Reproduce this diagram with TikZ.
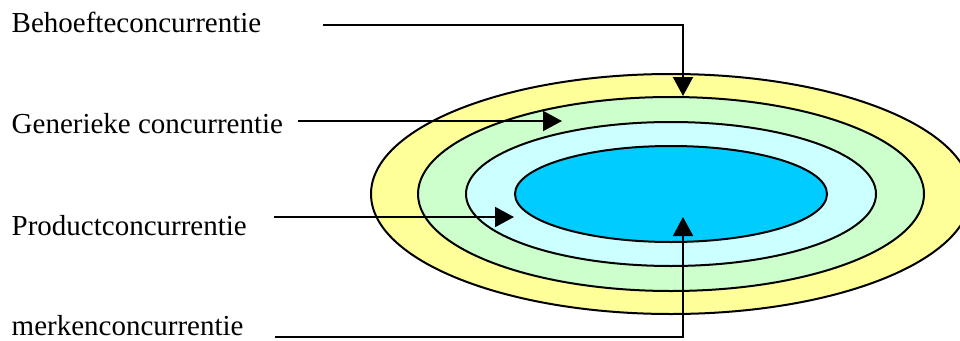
\documentclass[tikz,border=0pt]{standalone}
\usepackage{fontspec}
\setmainfont{Liberation Serif}
\usetikzlibrary{arrows.meta}
\definecolor{ringyellow}{HTML}{FFFF99}
\definecolor{ringgreen}{HTML}{CCFFCC}
\definecolor{ringcyan}{HTML}{CCFFFF}
\definecolor{ringblue}{HTML}{00CCFF}
\begin{document}
\begin{tikzpicture}[x=1pt,y=-1pt,
  ring/.style={draw=black,line width=2pt},
  lbl/.style={anchor=base west,inner sep=0pt,font=\fontsize{29}{34}\selectfont},
  pointer/.style={draw=black,line width=2pt,-{Triangle[length=19pt,width=20pt]}}]
\useasboundingbox (0,0) rectangle (960,340);
\begin{scope}
\clip (0,0) rectangle (960,340);
\path[ring,fill=ringyellow] (671,194) ellipse [x radius=300,y radius=120];
\path[ring,fill=ringgreen] (671,194) ellipse [x radius=253,y radius=97];
\path[ring,fill=ringcyan] (671,194) ellipse [x radius=205,y radius=72];
\path[ring,fill=ringblue] (671,194) ellipse [x radius=156,y radius=48];
\end{scope}
\node[lbl] (behoefte) at (11.5,32) {Behoefteconcurrentie};
\node[lbl] (generiek) at (11.5,133) {Generieke concurrentie};
\node[lbl] (product) at (11.5,235) {Productconcurrentie};
\node[lbl] (merken) at (11.5,335) {merkenconcurrentie};
\coordinate (bs) at (323,24.5);
\coordinate (bc) at (683,24.5);
\coordinate (bt) at (683,96);
\coordinate (gs) at (298,121);
\coordinate (gt) at (562,121);
\coordinate (ps) at (274,217);
\coordinate (pt) at (514,217);
\coordinate (ms) at (275,336.5);
\coordinate (mc) at (683,336.5);
\coordinate (mt) at (683,217);
\draw[pointer] (bs) -- (bc) -- (bt);
\draw[pointer] (gs) -- (gt);
\draw[pointer] (ps) -- (pt);
\draw[pointer] (ms) -- (mc) -- (mt);
\end{tikzpicture}
\end{document}
